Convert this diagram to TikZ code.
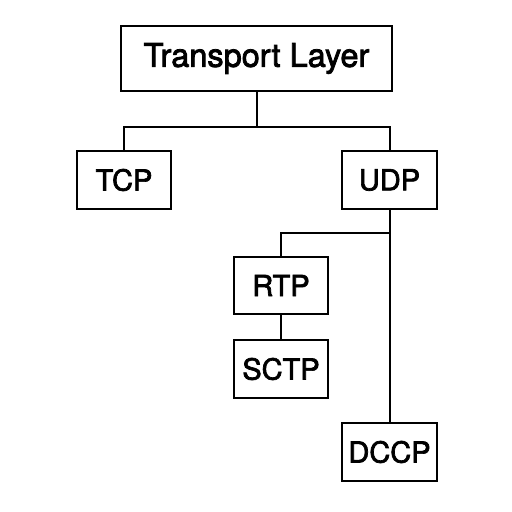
\documentclass[tikz,border=0pt]{standalone}
\usepackage{fontspec}
\setmainfont{TeX Gyre Heros}[FakeBold=2.4]
\begin{document}
\begin{tikzpicture}[x=1pt,y=-1pt,
  box/.style={draw=black,line width=2pt,fill=white,inner sep=0pt,minimum width=#1,minimum height=58pt,font=\fontsize{29}{29}\selectfont},
  conn/.style={draw=black,line width=2pt}]
\useasboundingbox (0,0) rectangle (512,512);
\fill[white] (0,0) rectangle (512,512);
\node[box=271pt,minimum height=65pt,font=\fontsize{32.5}{32.5}\selectfont] (tl) at (256.5,58.5) {Transport Layer};
\node[box=94pt] (tcp) at (124,180) {TCP};
\node[box=95pt] (udp) at (389.5,180) {UDP};
\node[box=94pt,minimum height=57pt] (rtp) at (281,285.5) {RTP};
\node[box=94pt] (sctp) at (281,369) {SCTP};
\node[box=95pt] (dccp) at (389.5,452) {DCCP};
\coordinate (j1) at (256.5,127);
\coordinate (j2) at (389.5,233);
\draw[conn] (tl.south) -- (j1);
\draw[conn] (tcp.north) |- (j1) -| (udp.north);
\draw[conn] (udp.south) -- (dccp.north);
\draw[conn] (j2) -| (rtp.north);
\draw[conn] (rtp.south) -- (sctp.north);
\end{tikzpicture}
\end{document}
